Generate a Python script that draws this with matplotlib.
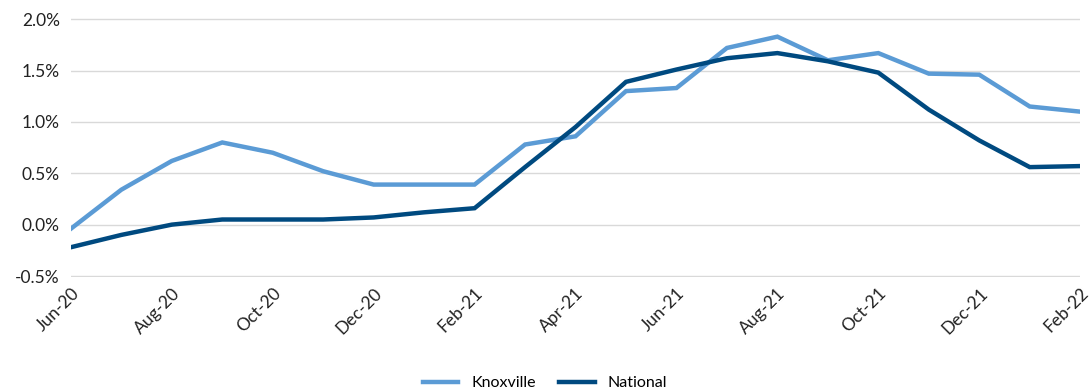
import matplotlib
matplotlib.use('Agg')
import matplotlib.pyplot as plt
from matplotlib.ticker import FuncFormatter

# Month labels, Jun-20 through Feb-22
months = ['Jun-20', 'Jul-20', 'Aug-20', 'Sep-20', 'Oct-20', 'Nov-20', 'Dec-20',
          'Jan-21', 'Feb-21', 'Mar-21', 'Apr-21', 'May-21', 'Jun-21', 'Jul-21',
          'Aug-21', 'Sep-21', 'Oct-21', 'Nov-21', 'Dec-21', 'Jan-22', 'Feb-22']

# Monthly change, in percent
knoxville = [-0.04, 0.34, 0.62, 0.80, 0.70, 0.52, 0.39, 0.39, 0.39, 0.78, 0.86,
             1.30, 1.33, 1.72, 1.83, 1.60, 1.67, 1.47, 1.46, 1.15, 1.10]
national = [-0.22, -0.10, 0.00, 0.05, 0.05, 0.05, 0.07, 0.12, 0.16, 0.56, 0.95,
            1.39, 1.51, 1.62, 1.67, 1.59, 1.48, 1.12, 0.82, 0.56, 0.57]

plt.rcParams['font.family'] = ['Lato', 'DejaVu Sans']

fig = plt.figure(figsize=(10.9, 3.91), dpi=100)
ax = fig.add_axes([0.065, 0.292, 0.926, 0.661])

x = range(len(months))
ax.plot(x, knoxville, color='#5b9bd5', lw=3.2, label='Knoxville', solid_joinstyle='miter')
ax.plot(x, national, color='#004a80', lw=3.2, label='National', solid_joinstyle='miter')

# small margin so the outer gridlines are not clipped
ax.set_xlim(0, len(months) - 1)
ax.set_ylim(-0.508, 2.008)
ax.set_yticks([-0.5, 0.0, 0.5, 1.0, 1.5, 2.0])
ax.yaxis.set_major_formatter(FuncFormatter(lambda v, p: f'{v:.1f}%'))
ax.set_xticks(list(x)[::2])
ax.set_xticklabels(months[::2], rotation=45, ha='right', va='top',
                   rotation_mode='anchor')

ax.grid(axis='y', color='#d9d9d9', lw=1)
ax.set_axisbelow(True)
for s in ax.spines.values():
    s.set_visible(False)
ax.tick_params(length=0, labelsize=12.5, colors='#222222')
ax.tick_params(axis='x', pad=6)
ax.tick_params(axis='y', pad=8)

fig.legend(loc='lower center', bbox_to_anchor=(0.5, -0.035), ncol=2,
           frameon=False, fontsize=11.5, handlelength=2.2, columnspacing=1.5)

fig.savefig('out.png', dpi=100)
